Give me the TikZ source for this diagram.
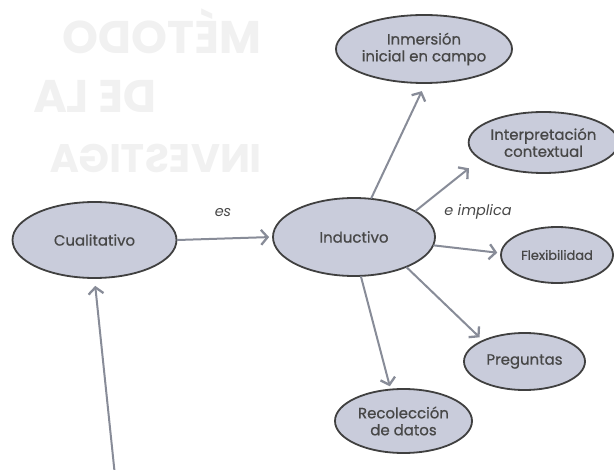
\documentclass[tikz,border=0pt]{standalone}
\usepackage{fontspec}
\setmainfont{Poppins}
\newfontfamily\nodefont{Poppins}[FakeBold=0.7]
\usetikzlibrary{shapes.geometric,arrows.meta}
\definecolor{bubblefill}{HTML}{C9CCDB}
\definecolor{rimgray}{HTML}{404040}
\definecolor{linkgray}{HTML}{888C98}
\definecolor{inkgray}{HTML}{474747}
\definecolor{ghostgray}{HTML}{F1F1F1}
\begin{document}
\begin{tikzpicture}[x=1bp,y=-1bp,
  bubble/.style={ellipse, draw=rimgray, line width=1.8bp, fill=bubblefill, inner sep=0pt,
    text=inkgray, align=center, font=\nodefont\fontsize{15}{17}\selectfont},
  link/.style={draw=linkgray, line width=2bp, line cap=round,
    -{Straight Barb[length=6.5bp,width=15bp,line width=2.3bp]}},
  lab/.style={text=inkgray, font=\fontsize{14.5}{16}\selectfont\itshape, inner sep=0pt},
  ghosttext/.style={text=ghostgray, font=\bfseries, inner sep=0pt, anchor=west}
]
\useasboundingbox (0,0) rectangle (614,470);
% faint mirrored bleed-through from the reverse page
\begin{scope}[xscale=-1, transform shape]
\node[ghosttext, font=\bfseries\fontsize{46}{46}\selectfont] (g1) at (-262,31) {MÉTODO};
\node[ghosttext, font=\bfseries\fontsize{46}{46}\selectfont] (g2) at (-157,96) {DE LA};
\node[ghosttext, font=\bfseries\fontsize{40}{40}\selectfont] (g3) at (-262,158) {INVESTIGA};
\end{scope}

\node[bubble, minimum width=164bp, minimum height=76bp] (cual) at (94.5,240) {Cualitativo};
\node[bubble, minimum width=162bp, minimum height=78bp] (ind) at (354,237) {Inductivo};
\node[bubble, minimum width=140bp, minimum height=68bp] (inm) at (424,49) {Inmersión\\inicial en campo};
\node[bubble, minimum width=137bp, minimum height=61bp] (interp) at (543.5,142.5) {Interpretación\\contextual};
\node[bubble, minimum width=112bp, minimum height=56bp, font=\nodefont\fontsize{13}{15}\selectfont] (flex) at (557,255) {Flexibilidad};
\node[bubble, minimum width=121bp, minimum height=57bp] (preg) at (524.5,361.5) {Preguntas};
\node[bubble, minimum width=137bp, minimum height=64bp] (reco) at (403.5,421) {Recolección\\de datos};

\node[lab] (es) at (223,213) {es};
\node[lab] (impl) at (478,212) {e implica};

\coordinate (src) at (115,476);

\draw[link, shorten >=3bp] (cual.east) -- (ind.west);
\draw[link, shorten >=8bp] (ind.66) -- (inm.-88);
\draw[link, shorten >=14bp] (ind.23) -- (interp.195);
\draw[link, shorten >=3bp] (ind.-6) -- (flex.178);
\draw[link, shorten >=4bp] (ind.-30) -- (preg.153);
\draw[link, shorten >=2.5bp] (ind.-80) -- (reco.112);
\draw[link, shorten >=7bp] (src) -- (cual.south);
\end{tikzpicture}
\end{document}
